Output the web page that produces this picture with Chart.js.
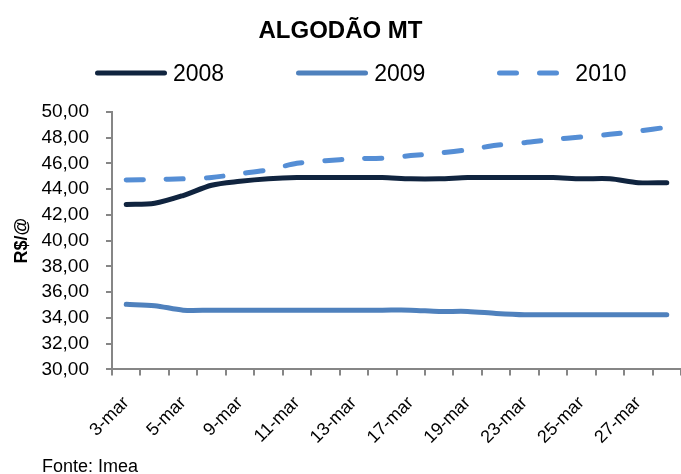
<!DOCTYPE html>
<html><head><meta charset="utf-8">
<script src="https://cdn.jsdelivr.net/npm/chart.js@4.4.1/dist/chart.umd.min.js"></script>
<style>
html,body{margin:0;padding:0;background:#fff;}
#wrap{position:relative;width:681px;height:474px;}
#legend{position:absolute;left:95px;top:58px;display:flex;gap:72px;font-family:"Liberation Sans",Arial,sans-serif;font-size:23px;color:#000;line-height:30px;}
.item{display:flex;align-items:center;}
.item svg{margin-right:6px;display:block}
</style></head>
<body><div id="wrap"><canvas id="c" width="681" height="474"></canvas><div id="legend"></div></div>
<script>
const categories = ['3-mar','4-mar','5-mar','6-mar','9-mar','10-mar','11-mar','12-mar','13-mar','16-mar','17-mar','18-mar','19-mar','20-mar','23-mar','24-mar','25-mar','26-mar','27-mar','30-mar'];
const seriesNames = ['2008','2009','2010'];
const values2008 = [42.8,42.9,43.5,44.3,44.6,44.8,44.9,44.9,44.9,44.9,44.8,44.8,44.9,44.9,44.9,44.9,44.8,44.8,44.5,44.5];
const values2009 = [35.05,34.95,34.6,34.6,34.6,34.6,34.6,34.6,34.6,34.6,34.6,34.5,34.5,34.35,34.25,34.25,34.25,34.25,34.25,34.25];
const values2010 = [44.7,44.75,44.8,44.9,45.2,45.5,46.0,46.2,46.35,46.4,46.6,46.8,47.05,47.4,47.6,47.85,48.05,48.25,48.5,48.8];
const yMin = 30, yMax = 50, yStep = 2;

Chart.defaults.font.family = '"Liberation Sans", Arial, sans-serif';
Chart.defaults.color = '#000';

const axisGray = '#868686';

const fontePlugin = {
  id: 'fonte',
  afterDraw(chart) {
    const ctx = chart.ctx;
    ctx.save();
    ctx.font = '18px "Liberation Sans", Arial, sans-serif';
    ctx.fillStyle = '#000';
    ctx.textBaseline = 'alphabetic';
    ctx.fillText('Fonte: Imea', 42, 472);
    ctx.restore();
  }
};

const chart = new Chart(document.getElementById('c'), {
  type: 'line',
  data: {
    labels: categories,
    datasets: [
      {label: seriesNames[0], data: values2008, borderColor: '#10243F', backgroundColor: '#10243F', borderWidth: 5, pointRadius: 0, tension: 0.3, borderCapStyle: 'round', borderJoinStyle: 'round'},
      {label: seriesNames[1], data: values2009, borderColor: '#4F81BD', backgroundColor: '#4F81BD', borderWidth: 5, pointRadius: 0, tension: 0.3, borderCapStyle: 'round', borderJoinStyle: 'round'},
      {label: seriesNames[2], data: values2010, borderColor: '#558ED5', backgroundColor: '#558ED5', borderWidth: 5, pointRadius: 0, tension: 0.3, borderDash: [17, 23], borderCapStyle: 'round', borderJoinStyle: 'round'}
    ]
  },
  options: {
    responsive: false,
    animation: false,
    devicePixelRatio: 1,
    layout: {padding: {left: 0, right: 0, top: 0, bottom: 9}},
    plugins: {
      legend: {display: false},
      tooltip: {enabled: false},
      title: {display: true, text: 'ALGODÃO MT', font: {size: 24, weight: 'bold'}, color: '#000', padding: {top: 17, bottom: 66}}
    },
    scales: {
      x: {
        offset: true,
        grid: {offset: true, drawOnChartArea: false, drawTicks: true, tickLength: 6, color: axisGray, lineWidth: 2},
        border: {display: true, color: axisGray, width: 2},
        ticks: {autoSkip: false, maxRotation: 45, minRotation: 45, padding: 17, font: {size: 18}, color: '#000',
          callback: (v, i) => (i % 2 === 0 ? categories[i] : '')},
        afterFit: s => { s.paddingLeft = 0; s.paddingRight = 0; }
      },
      y: {
        min: yMin, max: yMax,
        grid: {drawOnChartArea: false, drawTicks: true, tickLength: 6, color: axisGray, lineWidth: 2},
        border: {display: true, color: axisGray, width: 2},
        ticks: {stepSize: yStep, autoSkip: false, padding: 17, font: {size: 19}, color: '#000',
          callback: v => Number(v).toFixed(2).replace('.', ',')},
        title: {display: true, text: 'R$/@', font: {size: 18, weight: 'bold'}, color: '#000', padding: {top: 11, bottom: 11}},
        afterFit: s => { s.width = 112; }
      }
    }
  },
  plugins: [fontePlugin]
});

// HTML legend generated from the chart's datasets
const legendEl = document.getElementById('legend');
chart.data.datasets.forEach(ds => {
  const item = document.createElement('div');
  item.className = 'item';
  const dash = ds.borderDash ? ds.borderDash.join(' ') : '';
  item.innerHTML = '<svg width="72" height="10"><line x1="2.5" y1="5" x2="69.5" y2="5" stroke="' + ds.borderColor +
    '" stroke-width="5" stroke-linecap="round"' + (dash ? ' stroke-dasharray="' + dash + '"' : '') + '/></svg>';
  const span = document.createElement('span');
  span.textContent = ds.label;
  item.appendChild(span);
  legendEl.appendChild(item);
});
</script>
</body></html>
